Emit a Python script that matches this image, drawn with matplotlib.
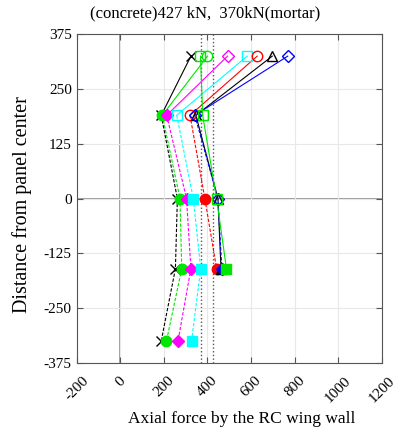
import matplotlib.pyplot as plt

plt.rcParams["font.family"] = ["Liberation Serif", "DejaVu Serif"]

# ---- Data: distance from panel center (levels) and axial force per series ----
levels_long = [325, 190, 0, -160, -325]
levels_short = [325, 190, 0, -160]

force_black_x = [324, 188, 262, 253, 188]
force_green_circle = [400, 193, 274, 282, 212]
force_magenta_diamond = [492, 213, 304, 324, 265]
force_cyan_square = [582, 259, 335, 369, 327]
force_red_circle = [628, 320, 388, 442]
force_black_triangle = [697, 347, 448, 462]
force_blue_diamond = [768, 342, 448, 466]
force_green_square = [368, 378, 442, 487]

capacity_concrete = 427
capacity_mortar = 370

xticks = [-200, 0, 200, 400, 600, 800, 1000, 1200]
yticks = [375, 250, 125, 0, -125, -250, -375]

# style per series: color, marker, filled flags per level, lower-line style
series = [
    (force_black_x, levels_long, "black", "x", [1, 1, 1, 1, 1], "--"),
    (force_green_circle, levels_long, "#00e600", "o", [0, 1, 1, 1, 1], "--"),
    (force_magenta_diamond, levels_long, "magenta", "D", [0, 1, 1, 1, 1], "--"),
    (force_cyan_square, levels_long, "cyan", "s", [0, 0, 1, 1, 1], "--"),
    (force_red_circle, levels_short, "red", "o", [0, 0, 1, 1], "--"),
    (force_black_triangle, levels_short, "black", "^", [0, 0, 0, 1], "-"),
    (force_blue_diamond, levels_short, "blue", "D", [0, 0, 0, 1], "--"),
    (force_green_square, levels_short, "#00e600", "s", [0, 0, 0, 1], "-"),
]

fig = plt.figure(figsize=(3.97, 4.28), dpi=100)
ax = fig.add_axes([0.193, 0.152, 0.769, 0.768])

ax.grid(True, color="#e8e8e8", linewidth=0.8, zorder=0)
ax.axhline(0, color="#8c8c8c", linewidth=1.2, zorder=1)
ax.axvline(0, color="#8c8c8c", linewidth=1.2, zorder=1)
ax.axvline(capacity_mortar, color="#555555", linestyle=":", linewidth=1.0, zorder=1)
ax.axvline(capacity_concrete, color="#555555", linestyle=":", linewidth=1.0, zorder=1)

for force, lev, col, mk, filled, ls in series:
    # top segment solid, lower segments in the series' line style
    ax.plot(force[:2], lev[:2], color=col, linewidth=0.8, linestyle="-", zorder=2)
    ax.plot(force[1:], lev[1:], color=col, linewidth=0.8, linestyle=ls,
            dashes=(3, 1.5) if ls == "--" else (None, None), zorder=2)
    ms = 6.5 if mk == "D" else 7.5
    for x, y, f in zip(force, lev, filled):
        ax.plot(x, y, marker=mk, markersize=ms, color=col,
                markerfacecolor=col if f else "none", markeredgecolor=col,
                markeredgewidth=1.0, linestyle="none", zorder=3)

ax.set_xlim(-200, 1200)
ax.set_ylim(-375, 375)
ax.set_xticks(xticks)
ax.set_yticks(yticks)
ax.set_xticklabels([str(t) for t in xticks], rotation=45, ha="center", fontsize=11)
ax.set_yticklabels([str(t) for t in yticks], fontsize=11)
ax.tick_params(direction="in", top=True, right=True, length=4, color="#555555")
ax.tick_params(axis="x", pad=8)
for sp in ax.spines.values():
    sp.set_color("#555555")

fig.text(22 / 397, 1 - 205 / 428, "Distance from panel center", rotation=90,
         ha="center", va="center", fontsize=14.5)
fig.text(0.61, 1 - 419 / 428, "Axial force by the RC wing wall", ha="center",
         va="center", fontsize=12.5)

fig.text(0.516, 0.968, "(concrete)427 kN,  370kN(mortar)", ha="center", va="center",
         fontsize=12)

fig.savefig("out.png", dpi=100)
